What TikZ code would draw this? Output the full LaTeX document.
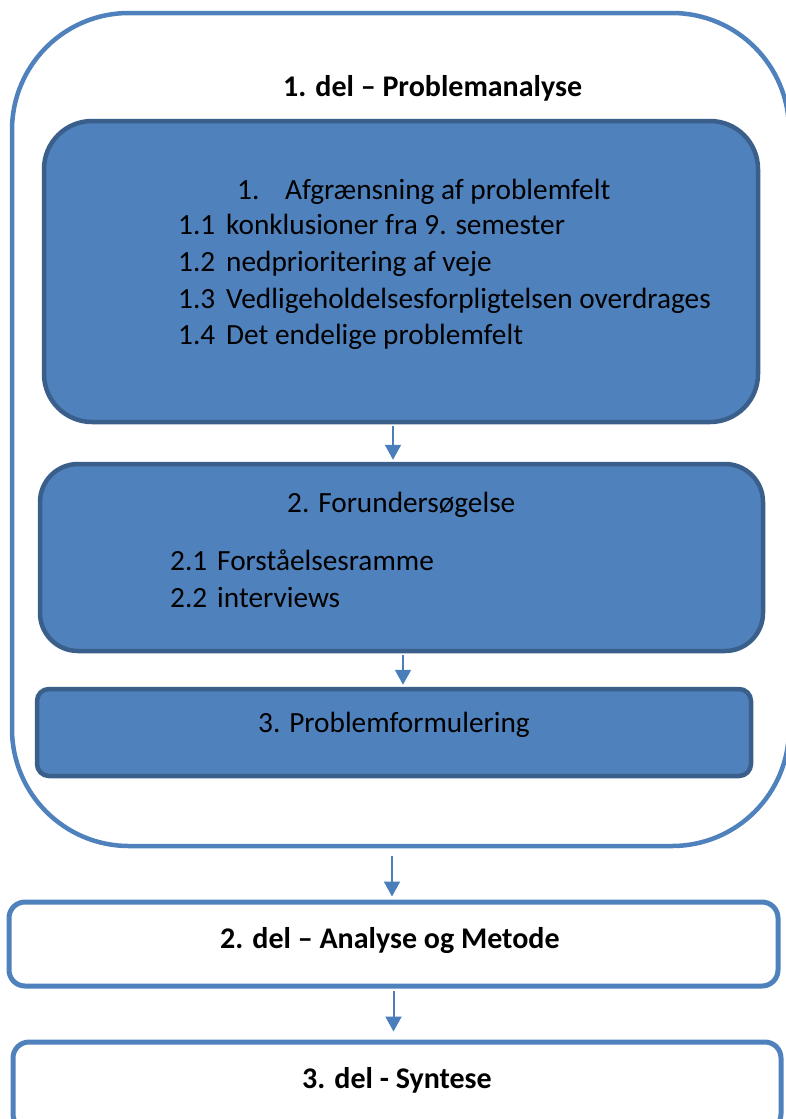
\documentclass[tikz,border=0pt]{standalone}
\usepackage{fontspec}
\setmainfont{Carlito}
\usetikzlibrary{arrows.meta}
\definecolor{fillblue}{HTML}{4F81BD}
\definecolor{darkedge}{HTML}{3A5F8B}
\definecolor{lineblue}{HTML}{4F81BD}
\definecolor{arrowblue}{HTML}{4A7EBB}
\tikzset{
  outerbox/.style={draw=lineblue, line width=4.5pt, fill=none, inner sep=0pt, rectangle},
  bluebox/.style={draw=darkedge, line width=4.5pt, fill=fillblue, inner sep=0pt, rectangle},
  whitebox/.style={draw=lineblue, line width=5pt, fill=white, inner sep=0pt, rectangle},
  txt/.style={anchor=base west, inner sep=0pt, font=\fontsize{29.3}{33}\selectfont},
  btxt/.style={anchor=base west, inner sep=0pt, font=\fontsize{30}{34}\selectfont\bfseries},
  arr/.style={draw=arrowblue, line width=2pt, -{Triangle[length=15pt,width=16pt]}},
}
\begin{document}
\begin{tikzpicture}[x=1pt,y=-1pt]
\useasboundingbox (0,0) rectangle (785,1119);
% containers
\node[outerbox, rounded corners=117pt, minimum width=777pt, minimum height=833pt] (outer) at (400.5,429.5) {};
\node[bluebox, rounded corners=48pt, minimum width=714pt, minimum height=301pt] (b1) at (401,271.5) {};
\node[bluebox, rounded corners=38pt, minimum width=723pt, minimum height=187pt] (b2) at (401.5,557.5) {};
\node[bluebox, rounded corners=12pt, minimum width=714pt, minimum height=87pt] (b3) at (394,732.5) {};
\node[whitebox, rounded corners=16pt, minimum width=769pt, minimum height=84pt] (d2) at (393.5,944) {};
\node[whitebox, rounded corners=16pt, minimum width=768pt, minimum height=88pt] (d3) at (397,1086) {};
% texts
\node[btxt] (t0) at (283,96) {1. del – Problemanalyse};
\node[txt] (t1n) at (237,199) {1.};
\node[txt] (t1) at (285,199) {Afgrænsning af problemfelt};
\node[txt] (t11n) at (178,234) {1.1};
\node[txt] (t11) at (226,234) {konklusioner fra 9. semester};
\node[txt] (t12n) at (178,271) {1.2};
\node[txt] (t12) at (226,271) {nedprioritering af veje};
\node[txt] (t13n) at (178,308) {1.3};
\node[txt] (t13) at (226,308) {Vedligeholdelsesforpligtelsen overdrages};
\node[txt] (t14n) at (178,344) {1.4};
\node[txt] (t14) at (226,344) {Det endelige problemfelt};
\node[txt] (t2) at (287,512) {2. Forundersøgelse};
\node[txt] (t21n) at (170,570) {2.1};
\node[txt] (t21) at (217,570) {Forståelsesramme};
\node[txt] (t22n) at (170,607) {2.2};
\node[txt] (t22) at (217,607) {interviews};
\node[txt] (t3) at (258,732) {3. Problemformulering};
\node[btxt] (td2) at (220,948) {2. del – Analyse og Metode};
\node[btxt] (td3) at (302,1088) {3. del - Syntese};
% arrows
\draw[arr, shorten <=2pt, shorten >=2pt] ([xshift=-8pt]b1.south) -- ([xshift=-8pt]b1.south |- b2.north);
\draw[arr, shorten <=2pt, shorten >=2pt] ([xshift=1.5pt]b2.south) -- ([xshift=1.5pt]b2.south |- b3.north);
\draw[arr, shorten <=8pt, shorten >=3pt] ([xshift=-8.5pt]outer.south) -- ([xshift=-8.5pt]outer.south |- d2.north);
\draw[arr, shorten <=2pt, shorten >=8pt] (d2.south) -- (d2.south |- d3.north);
\end{tikzpicture}
\end{document}
